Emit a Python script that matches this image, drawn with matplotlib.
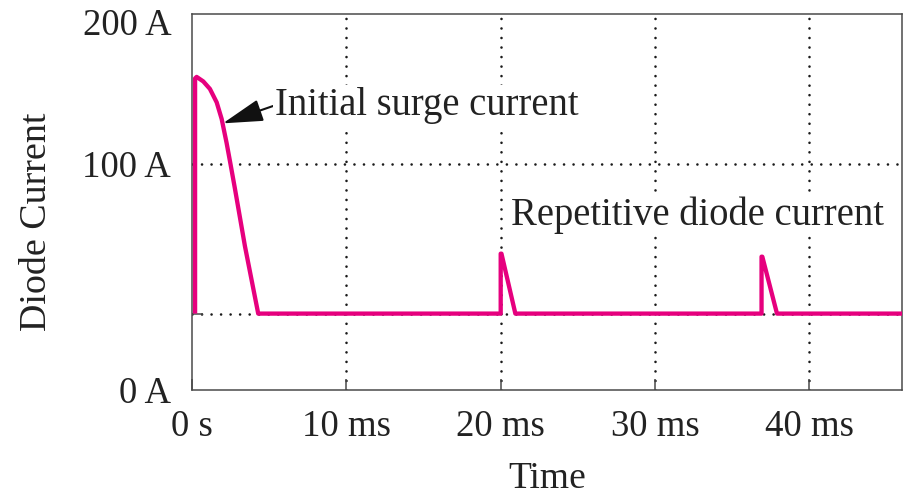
import numpy as np
import matplotlib
matplotlib.use('Agg')
import matplotlib.pyplot as plt

# diode current trace (time in ms, current in A)
t_ms = [0.2, 0.2, 0.3, 0.73, 1.16, 1.6, 1.92, 2.24, 2.5, 2.78, 3.43, 4.29,
        20.0, 20.0, 20.05, 20.95,
        36.9, 36.9, 36.95, 37.9, 46.0]
i_amp = [0, 157, 158, 155, 150, 141, 130, 114, 99.5, 83.5, 45, 0,
         0, 40, 40, 0,
         0, 38, 38, 0, 0]

x_ticks = [0, 10, 20, 30, 40]
x_labels = ['0 s', '10 ms', '20 ms', '30 ms', '40 ms']
y_ticks = [-51, 100, 195]
y_labels = ['0 A', '100 A', '200 A']
y_grid = [0, 100]

pink = '#E6007E'
frame = '#4a4a4a'
fsize = 26.5
note_size = 27.8

plt.rcParams['font.family'] = ['Liberation Serif', 'DejaVu Serif']

fig = plt.figure(figsize=(9.08, 4.98), dpi=100)
ax = fig.add_axes([192/908, 108/498, 710/908, 376/498])

ax.set_xlim(0, 46)
ax.set_ylim(-51, 200)

# dotted grid
dots = dict(color='#1a1a1a', lw=1.9, linestyle=(0, (0.01, 3.6)),
            dash_capstyle='round', zorder=1)
for v in x_ticks[1:]:
    ax.axvline(v, **dots)
for v in y_grid:
    ax.axhline(v, **dots)

ax.plot(t_ms, i_amp, color=pink, lw=3.1, zorder=4,
        solid_joinstyle='round', solid_capstyle='butt')

ax.set_xticks(x_ticks)
ax.set_xticklabels(x_labels)
ax.set_yticks(y_ticks)
ax.set_yticklabels(y_labels)
ax.set_yticks(y_grid, minor=True)
ax.tick_params(axis='x', direction='in', length=8, width=1.1, color=frame,
               pad=14, labelsize=fsize, labelcolor='#222222')
ax.tick_params(axis='y', which='major', length=0, pad=15,
               labelsize=fsize, labelcolor='#222222')
ax.tick_params(axis='y', which='minor', direction='in', length=8, width=1.1, color=frame)

for s in ax.spines.values():
    s.set_color(frame)
    s.set_linewidth(1.1)

ax.set_xlabel('Time', fontsize=27, color='#222222', va='center')
ax.xaxis.set_label_coords(0.5, -0.237)
ax.set_ylabel('Diode Current', fontsize=27.4, color='#222222', va='center', ha='center')
ax.yaxis.set_label_coords(-0.218, 0.447)

ax.annotate('Initial surge current', xy=(2.0, 127), xytext=(5.37, 139),
            fontsize=note_size, color='#222222', ha='left', va='center',
            bbox=dict(boxstyle='square,pad=0.05', fc='white', ec='none'),
            arrowprops=dict(arrowstyle='-|>,head_length=0.9,head_width=0.25',
                            color='#111111', lw=1.5, shrinkA=0, shrinkB=0,
                            relpos=(0, 0.5)),
            zorder=5)
ax.text(20.69, 65.5, 'Repetitive diode current', fontsize=note_size, color='#222222',
        ha='left', va='center', zorder=5,
        bbox=dict(boxstyle='square,pad=0.05', fc='white', ec='none'))

fig.savefig('out.png', dpi=100)
